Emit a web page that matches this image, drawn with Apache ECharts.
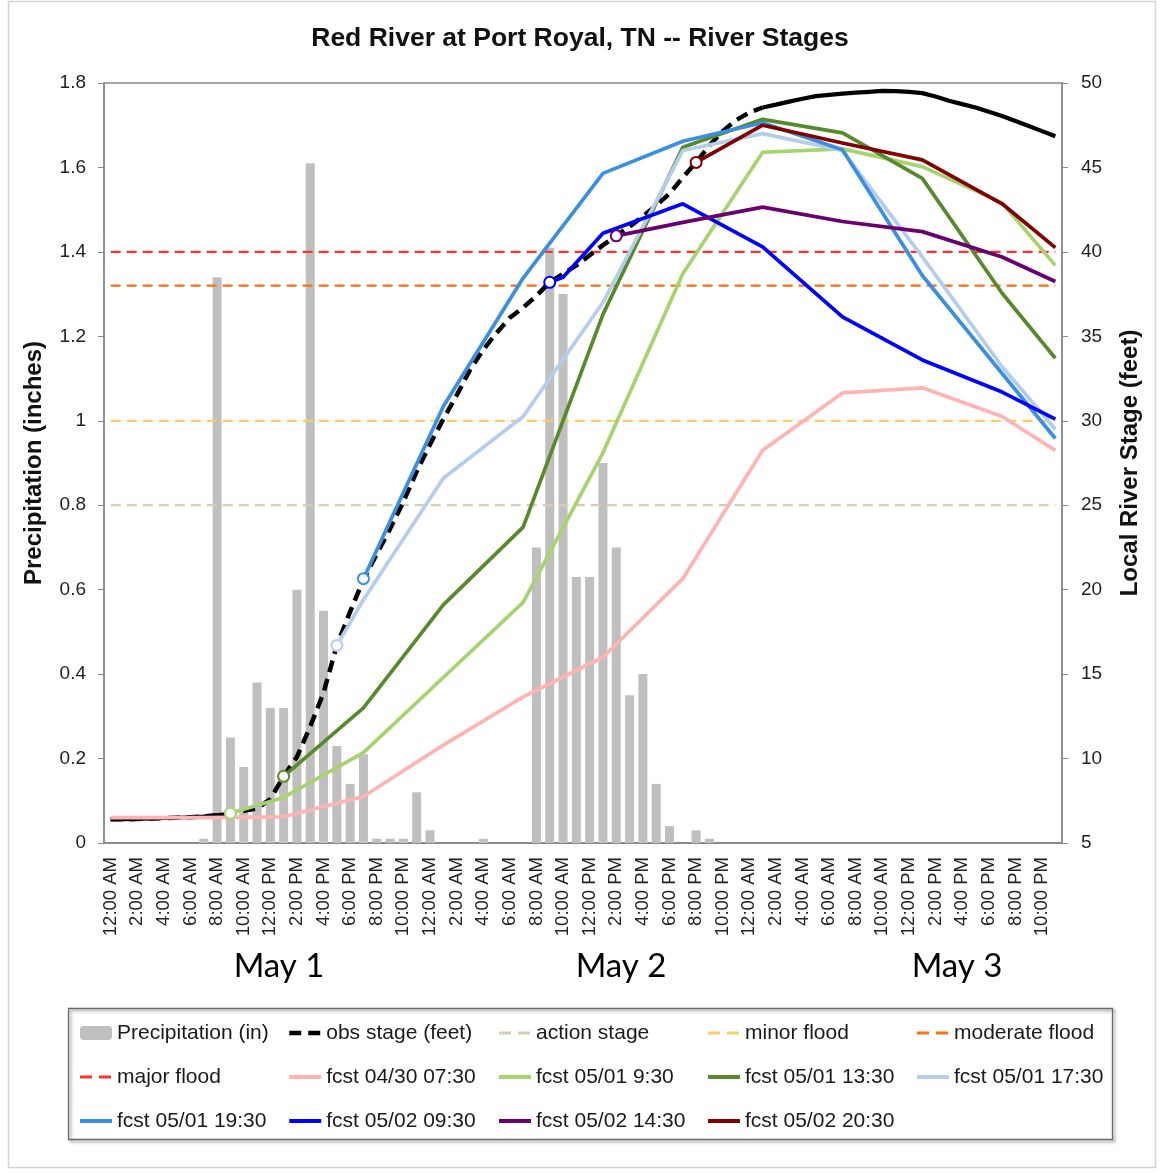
<!DOCTYPE html>
<html>
<head>
<meta charset="utf-8">
<script src="https://cdn.jsdelivr.net/npm/echarts@6/dist/echarts.min.js"></script>
<style>
html,body{margin:0;padding:0;background:#fff;}
#chart{width:1160px;height:1173px;}
</style>
</head>
<body>
<div id="chart"></div>
<script>
// ---------- DATA ----------
const days = ['May 1', 'May 2', 'May 3'];
const hoursOfDay = ['12:00 AM','1:00 AM','2:00 AM','3:00 AM','4:00 AM','5:00 AM','6:00 AM','7:00 AM','8:00 AM','9:00 AM','10:00 AM','11:00 AM',
                    '12:00 PM','1:00 PM','2:00 PM','3:00 PM','4:00 PM','5:00 PM','6:00 PM','7:00 PM','8:00 PM','9:00 PM','10:00 PM','11:00 PM'];
const categories = [];
days.forEach(d => hoursOfDay.forEach(h => categories.push(d + ' ' + h)));

// hourly precipitation (in)
const precip = [
  0, 0, 0, 0, 0, 0, 0, 0.01, 1.34, 0.25, 0.18, 0.38,
  0.32, 0.32, 0.60, 1.61, 0.55, 0.23, 0.14, 0.21, 0.01, 0.01, 0.01, 0.12,
  0.03, 0, 0, 0, 0.01, 0, 0, 0, 0.70, 1.41, 1.30, 0.63,
  0.63, 0.90, 0.70, 0.35, 0.40, 0.14, 0.04, 0, 0.03, 0.01, 0, 0,
  0, 0, 0, 0, 0, 0, 0, 0, 0, 0, 0, 0,
  0, 0, 0, 0, 0, 0, 0, 0, 0, 0, 0, 0
];

// observed stage (feet), hours 0..49
const obsStage = [
  6.4, 6.4, 6.42, 6.45, 6.47, 6.5, 6.53, 6.58, 6.65, 6.76, 6.9, 7.05,
  7.6, 8.95, 10.1, 11.9, 13.9, 16.7, 18.7, 20.6, 22.1, 23.6, 25.2, 27.0,
  28.6, 30.1, 31.5, 33.0, 34.2, 35.2, 36.1, 36.7, 37.4, 38.2, 38.7, 39.2,
  39.8, 40.4, 40.95, 41.5, 42.1, 42.75, 43.45, 44.4, 45.3, 46.3, 47.15, 47.8,
  48.25, 48.55
];
// solid black stage segments (hours 0..9 and 49..71)
const solidStartHours = [0,1,2,3,4,5,6,7,8,9];
const solidStartVals  = [6.4, 6.4, 6.42, 6.45, 6.47, 6.5, 6.53, 6.58, 6.65, 6.76];
const solidEndHours = [49,50,51,52,53,54,55,56,57,58,59,60,61,62,63,64,65,66,67,68,69,70,71];
const solidEndVals  = [48.55, 48.72, 48.9, 49.07, 49.22, 49.3, 49.37, 49.43, 49.48, 49.53, 49.52, 49.47,
                       49.4, 49.2, 48.95, 48.75, 48.55, 48.3, 48.05, 47.75, 47.45, 47.15, 46.85];

// flood stages (feet)
const actionStage = 25, minorFlood = 30, moderateFlood = 38, majorFlood = 40;

// forecasts: [hour index, stage]
const fcst0430_0730 = [[0,6.5],[1,6.5],[7,6.5],[13,6.55],[19,7.75],[25,10.8],[31,13.65],[37,16.0],[43,20.65],[49,28.25],[55,31.65],[61,31.95],[67,30.25],[71,28.25]];
const fcst0501_0930 = [[9,6.76],[13,7.7],[19,10.35],[25,14.8],[31,19.25],[37,28.1],[43,38.7],[49,45.9],[55,46.1],[61,45.05],[67,42.9],[71,39.2]];
const fcst0501_1330 = [[13,8.95],[19,13.0],[25,19.1],[31,23.7],[37,36.3],[43,46.2],[49,47.85],[55,47.05],[61,44.35],[67,37.55],[71,33.7]];
const fcst0501_1730 = [[17,16.7],[19,19.4],[25,26.6],[31,30.25],[37,37.0],[43,46.0],[49,47.0],[55,46.0],[61,39.7],[67,33.2],[71,29.5]];
const fcst0501_1930 = [[19,20.65],[25,30.85],[31,38.45],[37,44.65],[43,46.55],[49,47.65],[55,46.05],[61,38.6],[67,32.8],[71,28.95]];
const fcst0502_0930 = [[33,38.2],[34,38.5],[37,41.1],[43,42.85],[49,40.3],[55,36.15],[61,33.6],[67,31.7],[71,30.1]];
const fcst0502_1430 = [[38,40.95],[43,41.75],[49,42.65],[55,41.8],[61,41.2],[67,39.7],[71,38.25]];
const fcst0502_2030 = [[44,45.3],[49,47.5],[55,46.45],[61,45.45],[67,42.85],[71,40.25]];

// ---------- CHART ----------
const FONT = 'Liberation Sans, Arial, sans-serif';
const lastIdx = categories.length - 1;

function pairs(xs, ys) { return xs.map((x, k) => [x, ys[k]]); }
function fcstData(arr, markStart) {
  return arr.map((p, k) => (k === 0 && markStart)
    ? { value: p, symbol: 'emptyCircle', symbolSize: 11 }
    : { value: p, symbol: 'none' });
}
function fcstSeries(name, arr, color, markStart) {
  return {
    name: name, type: 'line', yAxisIndex: 1, data: fcstData(arr, markStart),
    symbol: 'none', showSymbol: true, showAllSymbol: true,
    lineStyle: { color: color, width: 3.7 },
    itemStyle: { color: color, borderColor: color, borderWidth: 2 },
    z: 5
  };
}
function threshold(name, v, color) {
  return {
    name: name, type: 'line', yAxisIndex: 1, data: [[0, v], [lastIdx, v]],
    symbol: 'none', lineStyle: { color: color, width: 2.2, type: [10, 6] },
    itemStyle: { color: color }, z: 3
  };
}

const colors = {
  pink: '#ffb3b3', lgreen: '#a5d46f', dgreen: '#568a2c', lblue: '#b4cdec',
  mblue: '#3b8fe3', dblue: '#0000ff', purple: '#680070', dred: '#820000'
};

const dashedNames = ['obs stage (feet)', 'action stage', 'minor flood', 'moderate flood', 'major flood'];
function legendItem(name) {
  if (name === 'Precipitation (in)') return { name: name };
  const dashed = dashedNames.indexOf(name) > -1;
  return {
    name: name,
    itemStyle: { opacity: 0 },
    lineStyle: dashed ? { width: name === 'obs stage (feet)' ? 4.5 : 3, type: [12, 7] } : { width: 4, type: 'solid' }
  };
}

const legendBase = {
  orient: 'vertical', itemWidth: 32, itemHeight: 14, itemGap: 22, padding: 0,
  textStyle: { fontSize: 21, fontFamily: FONT, color: '#1a1a1a', lineHeight: 22 },
  selectedMode: false, top: 1022
};
const legendCols = [
  { left: 78,  names: ['Precipitation (in)', 'major flood', 'fcst 05/01 19:30'] },
  { left: 287, names: ['obs stage (feet)', 'fcst 04/30 07:30', 'fcst 05/02 09:30'] },
  { left: 497, names: ['action stage', 'fcst 05/01 9:30', 'fcst 05/02 14:30'] },
  { left: 706, names: ['minor flood', 'fcst 05/01 13:30', 'fcst 05/02 20:30'] },
  { left: 915, names: ['moderate flood', 'fcst 05/01 17:30'] }
];

const chart = echarts.init(document.getElementById('chart'));
chart.setOption({
  animation: false,
  backgroundColor: '#fff',
  title: {
    text: 'Red River at Port Royal, TN -- River Stages',
    left: 'center', top: 20,
    textStyle: { fontSize: 26.5, fontWeight: 'bold', fontFamily: FONT, color: '#111' }
  },
  legend: legendCols.map(c => Object.assign({}, legendBase, { left: c.left, data: c.names.map(legendItem) })),
  grid: { left: 104, right: 98, top: 83, bottom: 330, show: true, borderColor: '#8a8a8a', borderWidth: 1.5 },
  xAxis: {
    type: 'category', data: categories, boundaryGap: true,
    axisLine: { lineStyle: { color: '#8a8a8a', width: 2 } },
    axisTick: { interval: 0, length: 5, lineStyle: { color: '#8a8a8a' } },
    axisLabel: {
      interval: 1, rotate: 90, fontSize: 18.5, fontFamily: FONT, color: '#222', margin: 14,
      formatter: v => v.split(' ').slice(2).join(' ')
    }
  },
  yAxis: [
    {
      type: 'value', min: 0, max: 1.8, interval: 0.2, position: 'left',
      name: 'Precipitation (inches)', nameLocation: 'middle', nameRotate: 90, nameGap: 58,
      nameTextStyle: { fontSize: 24, fontWeight: 'bold', fontFamily: FONT, color: '#111' },
      axisLine: { show: true, lineStyle: { color: '#8a8a8a', width: 1.5 } },
      axisTick: { show: true, length: 6, lineStyle: { color: '#8a8a8a' } },
      axisLabel: { fontSize: 19, fontFamily: FONT, color: '#222', margin: 18 },
      splitLine: { show: false }
    },
    {
      type: 'value', min: 5, max: 50, interval: 5, position: 'right',
      name: 'Local River Stage (feet)', nameLocation: 'middle', nameRotate: 90, nameGap: 56,
      nameTextStyle: { fontSize: 24, fontWeight: 'bold', fontFamily: FONT, color: '#111' },
      axisLine: { show: true, lineStyle: { color: '#8a8a8a', width: 1.5 } },
      axisTick: { show: true, length: 6, lineStyle: { color: '#8a8a8a' } },
      axisLabel: { fontSize: 19, fontFamily: FONT, color: '#222', margin: 19 },
      splitLine: { show: false }
    }
  ],
  series: [
    { name: 'Precipitation (in)', type: 'bar', yAxisIndex: 0, data: precip, barWidth: 9,
      itemStyle: { color: '#bfbfbf' }, z: 1 },
    threshold('action stage', actionStage, '#d8cdae'),
    threshold('minor flood', minorFlood, '#fbcb6c'),
    threshold('moderate flood', moderateFlood, '#ff6f10'),
    threshold('major flood', majorFlood, '#ff3030'),
    { name: 'obs stage (feet)', type: 'line', yAxisIndex: 1, data: obsStage, symbol: 'none',
      lineStyle: { color: '#000', width: 4.5, type: [12, 7] }, itemStyle: { color: '#000' }, z: 4 },
    { name: 'obs solid start', type: 'line', yAxisIndex: 1, data: pairs(solidStartHours, solidStartVals),
      symbol: 'none', lineStyle: { color: '#000', width: 3.8 }, z: 4 },
    { name: 'stage solid end', type: 'line', yAxisIndex: 1, data: pairs(solidEndHours, solidEndVals),
      symbol: 'none', lineStyle: { color: '#000', width: 4.2 }, z: 4 },
    fcstSeries('fcst 04/30 07:30', fcst0430_0730, colors.pink, false),
    fcstSeries('fcst 05/01 9:30', fcst0501_0930, colors.lgreen, true),
    fcstSeries('fcst 05/01 13:30', fcst0501_1330, colors.dgreen, true),
    fcstSeries('fcst 05/01 17:30', fcst0501_1730, colors.lblue, true),
    fcstSeries('fcst 05/01 19:30', fcst0501_1930, colors.mblue, true),
    fcstSeries('fcst 05/02 09:30', fcst0502_0930, colors.dblue, true),
    fcstSeries('fcst 05/02 14:30', fcst0502_1430, colors.purple, true),
    fcstSeries('fcst 05/02 20:30', fcst0502_2030, colors.dred, true)
  ],
  graphic: [
    { type: 'rect', silent: true, z: -10, shape: { x: 8.5, y: 1.5, width: 1147, height: 1166 },
      style: { fill: null, stroke: '#d4d4d4', lineWidth: 1.5 } },
    { type: 'rect', silent: true, shape: { x: 68.5, y: 1008.5, width: 1044, height: 131 },
      style: { fill: null, stroke: '#6a6a6a', lineWidth: 1.3, shadowBlur: 3, shadowOffsetX: 2, shadowOffsetY: 2, shadowColor: 'rgba(0,0,0,0.45)' } },
    { type: 'text', silent: true, style: { text: days[0], x: 279, y: 966, align: 'center', verticalAlign: 'middle', font: '33px Lato, "Open Sans", sans-serif', fill: '#000' } },
    { type: 'text', silent: true, style: { text: days[1], x: 621, y: 966, align: 'center', verticalAlign: 'middle', font: '33px Lato, "Open Sans", sans-serif', fill: '#000' } },
    { type: 'text', silent: true, style: { text: days[2], x: 957, y: 966, align: 'center', verticalAlign: 'middle', font: '33px Lato, "Open Sans", sans-serif', fill: '#000' } }
  ]
});
</script>
</body>
</html>
